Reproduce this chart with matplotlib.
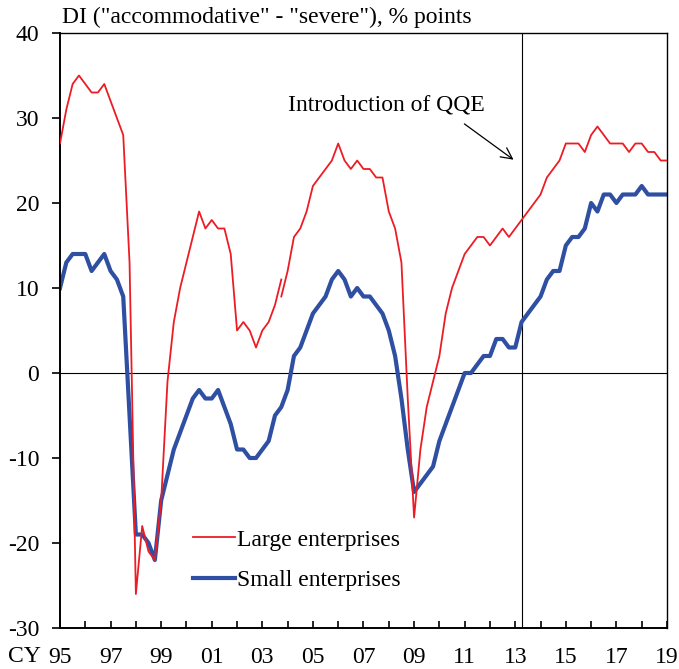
import numpy as np
import matplotlib
matplotlib.use("Agg")
import matplotlib.pyplot as plt

plt.rcParams['font.family'] = ['Liberation Serif', 'DejaVu Serif']
plt.rcParams['axes.unicode_minus'] = False

# quarterly, 1995Q1 .. 2019Q1
start_year = 1995
n_q = 97

# large enterprises, old basis (to 2003Q4)
large_old = [27, 31, 34, 35, 34, 33, 33, 34, 32, 30, 28, 13,
             -26, -18, -21, -22, -15, -1, 6, 10, 13, 16, 19, 17,
             18, 17, 17, 14, 5, 6, 5, 3, 5, 6, 8, 11]
# large enterprises, new basis (from 2003Q4)
large_new = [9, 12, 16, 17, 19, 22, 23, 24, 25, 27, 25, 24,
             25, 24, 24, 23, 23, 19, 17, 13, -3, -17, -9, -4,
             -1, 2, 7, 10, 12, 14, 15, 16, 16, 15, 16, 17,
             16, 17, 18, 19, 20, 21, 23, 24, 25, 27, 27, 27,
             26, 28, 29, 28, 27, 27, 27, 26, 27, 27, 26, 26,
             25, 25]
small = [10, 13, 14, 14, 14, 12, 13, 14, 12, 11, 9, -5,
         -19, -19, -20, -22, -15, -12, -9, -7, -5, -3, -2, -3,
         -3, -2, -4, -6, -9, -9, -10, -10, -9, -8, -5, -4,
         -2, 2, 3, 5, 7, 8, 9, 11, 12, 11, 9, 10,
         9, 9, 8, 7, 5, 2, -3, -9, -14, -13, -12, -11,
         -8, -6, -4, -2, 0, 0, 1, 2, 2, 4, 4, 3,
         3, 6, 7, 8, 9, 11, 12, 12, 15, 16, 16, 17,
         20, 19, 21, 21, 20, 21, 21, 21, 22, 21, 21, 21,
         21]

qqe_date = 2013.25
year_ticks = list(range(1995, 2020))
y_ticks = list(range(-30, 41, 10))

t = start_year + np.arange(n_q) / 4.0
t_old = t[:len(large_old)]
t_new = t[len(large_old) - 1:]

red = '#ed1c24'
blue = '#2f4fa2'
fs = 17

fig = plt.figure(figsize=(6.79, 6.69), dpi=100)
ax = fig.add_axes([60 / 679, 41 / 669, 607 / 679, 595 / 669])

ax.axhline(0, color='black', lw=0.8, zorder=1)
ax.axvline(qqe_date, color='black', lw=0.8, zorder=1)

ax.plot(t_old, large_old, color=red, lw=1.3, zorder=3, label='Large enterprises')
ax.plot(t_new, large_new, color=red, lw=1.3, zorder=3)
ax.plot(t, small, color=blue, lw=3.0, zorder=2, label='Small enterprises')

ax.set_xlim(1995, 2019)
ax.set_ylim(-30, 40)

ax.set_yticks(y_ticks)
ax.set_yticklabels([str(v) for v in y_ticks])
ax.set_xticks(year_ticks)
ax.set_xticklabels([('%02d' % (y % 100)) if (y - 1995) % 2 == 0 else '' for y in year_ticks])

ax.tick_params(axis='y', direction='out', length=6, width=1.2, labelsize=fs, pad=9)
ax.tick_params(axis='x', direction='in', length=5, width=1.2, labelsize=fs, pad=14)

for side in ['left', 'bottom']:
    ax.spines[side].set_linewidth(1.4)
for side in ['top', 'right']:
    ax.spines[side].set_linewidth(1.0)

ax.annotate('', xy=(2013.02, 24.9), xytext=(2010.9, 29.5),
            arrowprops=dict(arrowstyle='->', lw=0.9, color='black', mutation_scale=20))
ax.text(2004.0, 31.5, 'Introduction of QQE', va='center', ha='left', fontsize=fs)

ax.legend(loc='upper left', bbox_to_anchor=(0.219, 0.166), frameon=False,
          fontsize=fs, handlelength=1.78, handletextpad=0.1, labelspacing=0.8,
          borderpad=0, borderaxespad=0)

fig.text(62 / 679, 1 - 17 / 669, 'DI ("accommodative" - "severe"), % points',
         va='center', ha='left', fontsize=fs)
fig.text(8 / 679, 1 - 656 / 669, 'CY', va='center', ha='left', fontsize=fs)

fig.savefig('out.png', dpi=100)
